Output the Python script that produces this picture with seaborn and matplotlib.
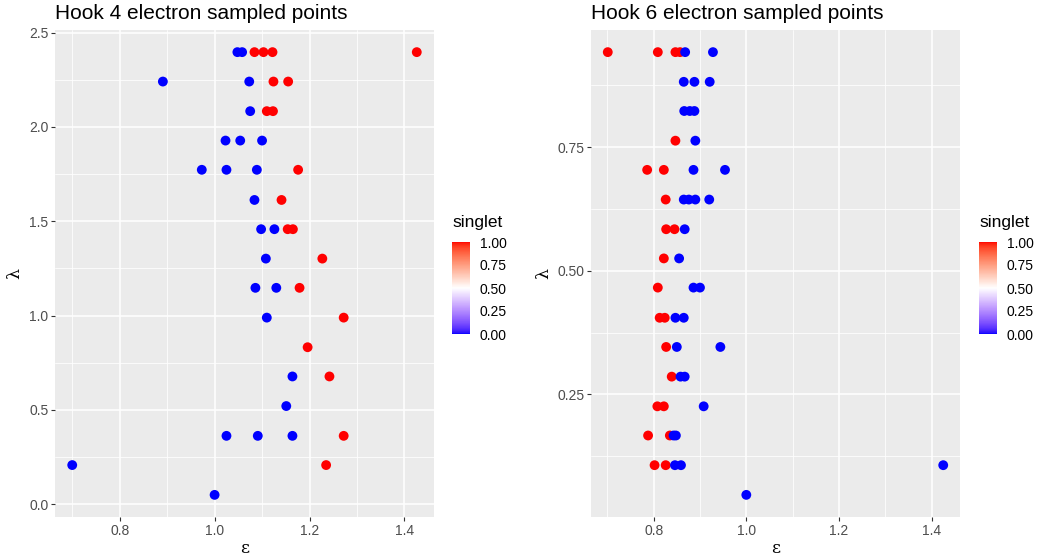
import numpy as np
import pandas as pd
import matplotlib
matplotlib.use("Agg")
import matplotlib.pyplot as plt
from matplotlib.colors import ListedColormap, Normalize
from matplotlib.ticker import MultipleLocator, FixedLocator
import seaborn as sns

# ---------------- data ----------------
# Hook 4 electron
eps4 = [1.048, 1.058, 1.084, 1.103, 1.122, 1.426,
        0.891, 1.073, 1.124, 1.155,
        1.075, 1.110, 1.123,
        1.023, 1.054, 1.100,
        0.973, 1.025, 1.089, 1.176,
        1.084, 1.141,
        1.098, 1.126, 1.154, 1.165,
        1.108, 1.227,
        1.086, 1.130, 1.179,
        1.110, 1.272,
        1.196,
        1.164, 1.242,
        1.151,
        1.025, 1.091, 1.164, 1.272,
        0.700, 1.235,
        1.000]
lam4 = [2.397] * 6 + [2.241] * 4 + [2.084] * 3 + [1.928] * 3 + [1.773] * 4 + \
       [1.613] * 2 + [1.458] * 4 + [1.302] * 2 + [1.147] * 3 + [0.989] * 2 + \
       [0.832] * 1 + [0.677] * 2 + [0.520] * 1 + [0.362] * 4 + [0.207] * 2 + [0.049] * 1
singlet4 = [0, 0, 1, 1, 1, 1,
            0, 0, 1, 1,
            0, 1, 1,
            0, 0, 0,
            0, 0, 0, 1,
            0, 1,
            0, 0, 1, 1,
            0, 1,
            0, 0, 1,
            0, 1,
            1,
            0, 1,
            0,
            0, 0, 0, 1,
            0, 1,
            0]

# Hook 6 electron
eps6 = [0.701, 0.809, 0.847, 0.857, 0.868, 0.928,
        0.865, 0.888, 0.921,
        0.866, 0.878, 0.888,
        0.847, 0.890,
        0.786, 0.822, 0.886, 0.954,
        0.826, 0.865, 0.876, 0.890, 0.920,
        0.827, 0.845, 0.867,
        0.822, 0.855,
        0.809, 0.886, 0.900,
        0.813, 0.824, 0.847, 0.865,
        0.827, 0.850, 0.944,
        0.839, 0.858, 0.867,
        0.808, 0.822, 0.908,
        0.788, 0.835, 0.843, 0.848,
        0.802, 0.826, 0.846, 0.859, 1.425,
        1.000]
lam6 = [0.942] * 6 + [0.882] * 3 + [0.823] * 3 + [0.763] * 2 + [0.704] * 4 + \
       [0.644] * 5 + [0.584] * 3 + [0.525] * 2 + [0.466] * 3 + [0.405] * 4 + \
       [0.346] * 3 + [0.286] * 3 + [0.226] * 3 + [0.167] * 4 + [0.107] * 5 + [0.047] * 1
singlet6 = [1, 1, 1, 1, 0, 0,
            0, 0, 0,
            0, 0, 0,
            1, 0,
            1, 1, 0, 0,
            1, 0, 0, 0, 0,
            1, 1, 0,
            1, 0,
            1, 0, 0,
            1, 1, 0, 0,
            1, 0, 0,
            1, 0, 0,
            1, 1, 0,
            1, 1, 0, 0,
            1, 1, 0, 0, 0,
            0]

titles = ["Hook 4 electron sampled points", "Hook 6 electron sampled points"]
cbar_ticks = [0.00, 0.25, 0.50, 0.75, 1.00]


# ---------------- colour scale (Lab interpolation like ggplot2 gradient2) ----------------
def _srgb_to_lab(rgb):
    rgb = np.asarray(rgb, float)
    lin = np.where(rgb <= 0.04045, rgb / 12.92, ((rgb + 0.055) / 1.055) ** 2.4)
    M = np.array([[0.4124564, 0.3575761, 0.1804375],
                  [0.2126729, 0.7151522, 0.0721750],
                  [0.0193339, 0.1191920, 0.9503041]])
    xyz = M @ lin
    wp = np.array([0.95047, 1.0, 1.08883])
    t = xyz / wp
    d = 6 / 29
    f = np.where(t > d ** 3, np.cbrt(t), t / (3 * d ** 2) + 4 / 29)
    return np.array([116 * f[1] - 16, 500 * (f[0] - f[1]), 200 * (f[1] - f[2])])


def _lab_to_srgb(lab):
    L, a, b = lab
    fy = (L + 16) / 116
    fx = fy + a / 500
    fz = fy - b / 200
    d = 6 / 29
    f = np.array([fx, fy, fz])
    t = np.where(f > d, f ** 3, 3 * d ** 2 * (f - 4 / 29))
    wp = np.array([0.95047, 1.0, 1.08883])
    xyz = t * wp
    Minv = np.array([[3.2404542, -1.5371385, -0.4985314],
                     [-0.9692660, 1.8760108, 0.0415560],
                     [0.0556434, -0.2040259, 1.0572252]])
    lin = Minv @ xyz
    lin = np.clip(lin, 0, 1)
    rgb = np.where(lin <= 0.0031308, 12.92 * lin, 1.055 * lin ** (1 / 2.4) - 0.055)
    return np.clip(rgb, 0, 1)


lab_low = _srgb_to_lab([0, 0, 1])
lab_mid = _srgb_to_lab([1, 1, 1])
lab_high = _srgb_to_lab([1, 0, 0])
cols = []
for t in np.linspace(0, 1, 256):
    if t <= 0.5:
        f = t / 0.5
        lab = lab_low + (lab_mid - lab_low) * f
    else:
        f = (t - 0.5) / 0.5
        lab = lab_mid + (lab_high - lab_mid) * f
    cols.append(_lab_to_srgb(lab))
cmap = ListedColormap(cols)

# ---------------- figure ----------------
sns.set_theme(style="darkgrid")
plt.rcParams["font.family"] = ["Liberation Sans", "DejaVu Sans"]

W, H = 1048, 557
fig = plt.figure(figsize=(W / 100, H / 100), dpi=100)
fig.patch.set_facecolor("white")


def px_rect(x0, x1, y0, y1):
    return [x0 / W, 1 - y1 / H, (x1 - x0) / W, (y1 - y0) / H]


panels = [
    dict(eps=eps4, lam=lam4, sing=singlet4, title=titles[0],
         rect=px_rect(55, 434, 30, 517), cbar=px_rect(452, 470, 242, 334),
         title_xy=(452, 223),
         xmaj=[0.8, 1.0, 1.2, 1.4], xmin=[0.7, 0.9, 1.1, 1.3],
         ymaj=[0.0, 0.5, 1.0, 1.5, 2.0, 2.5], ymin=[0.25, 0.75, 1.25, 1.75, 2.25],
         yfmt="{:.1f}"),
    dict(eps=eps6, lam=lam6, sing=singlet6, title=titles[1],
         rect=px_rect(591, 960, 30, 517), cbar=px_rect(979, 997, 242, 334),
         title_xy=(979, 223),
         xmaj=[0.8, 1.0, 1.2, 1.4], xmin=[0.7, 0.9, 1.1, 1.3],
         ymaj=[0.25, 0.50, 0.75], ymin=[0.125, 0.375, 0.625, 0.875],
         yfmt="{:.2f}"),
]

for p in panels:
    df = pd.DataFrame({"eps": p["eps"], "lam": p["lam"], "singlet": p["sing"]})
    ax = fig.add_axes(p["rect"])
    ax.set_facecolor("#EBEBEB")
    sns.scatterplot(data=df, x="eps", y="lam", hue="singlet", palette=cmap,
                    hue_norm=(0, 1), legend=False, s=50, linewidth=0, ax=ax,
                    zorder=3)
    ax.margins(0.05)
    ax.xaxis.set_major_locator(FixedLocator(p["xmaj"]))
    ax.xaxis.set_minor_locator(FixedLocator(p["xmin"]))
    ax.yaxis.set_major_locator(FixedLocator(p["ymaj"]))
    ax.yaxis.set_minor_locator(FixedLocator(p["ymin"]))
    ax.set_xticklabels([f"{v:.1f}" for v in p["xmaj"]])
    ax.set_yticklabels([p["yfmt"].format(v) for v in p["ymaj"]])
    ax.grid(which="major", color="white", linewidth=1.1)
    ax.grid(which="minor", color="white", linewidth=0.55)
    ax.set_axisbelow(True)
    for s in ax.spines.values():
        s.set_visible(False)
    ax.tick_params(axis="both", which="major", length=3.2, width=0.8,
                   color="#333333", labelsize=10, labelcolor="#4D4D4D", pad=1.5,
                   left=True, bottom=True)
    ax.tick_params(axis="both", which="minor", length=0)
    ax.set_xlabel("ε", family=["DejaVu Serif"], fontsize=12.5, color="black", labelpad=2)
    ax.set_ylabel("λ", family=["DejaVu Serif"], fontsize=12.5, color="black", labelpad=4)
    ax.set_title(p["title"], loc="left", fontsize=15, pad=8, color="black")

    # colourbar legend
    cax = fig.add_axes(p["cbar"])
    sm = plt.cm.ScalarMappable(norm=Normalize(0, 1), cmap=cmap)
    cb = fig.colorbar(sm, cax=cax, ticks=cbar_ticks)
    cb.outline.set_visible(False)
    cb.ax.set_yticklabels([f"{v:.2f}" for v in cbar_ticks])
    cb.ax.tick_params(length=3, width=0.7, color="white", direction="in",
                      labelsize=10, labelcolor="black", pad=7)
    fig.text(p["title_xy"][0] / W, 1 - p["title_xy"][1] / H, "singlet",
             fontsize=12.5, ha="left", va="center", color="black")

fig.savefig("out.png", dpi=100, facecolor="white")
